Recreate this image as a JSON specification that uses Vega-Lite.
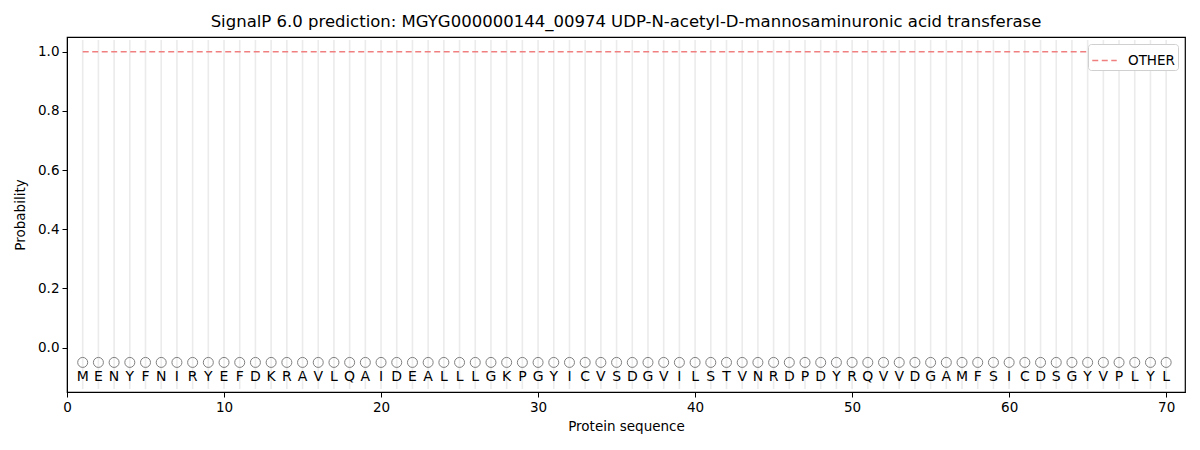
{
  "$schema": "https://vega.github.io/schema/vega-lite/v6.json",
  "width": 1118,
  "height": 355,
  "autosize": "none",
  "padding": {"left": 67, "top": 37, "right": 15, "bottom": 58},
  "background": "white",
  "title": {"text": "SignalP 6.0 prediction: MGYG000000144_00974 UDP-N-acetyl-D-mannosaminuronic acid transferase", "font": "DejaVu Sans", "fontSize": 16.5, "fontWeight": "normal", "color": "black", "offset": 7},
  "config": {
    "font": "DejaVu Sans",
    "view": {"stroke": "black", "strokeWidth": 1.2},
    "axis": {"labelFont": "DejaVu Sans", "titleFont": "DejaVu Sans", "labelFontSize": 13.5, "titleFontSize": 13.5, "titleFontWeight": "normal", "labelColor": "black", "titleColor": "black", "tickColor": "black", "domainColor": "black", "grid": false, "tickSize": 5, "labelPadding": 3}
  },
  "data": {"values": [
    {"pos": 1, "aa": "M", "other": 1.0}, {"pos": 2, "aa": "E", "other": 1.0}, {"pos": 3, "aa": "N", "other": 1.0},
    {"pos": 4, "aa": "Y", "other": 1.0}, {"pos": 5, "aa": "F", "other": 1.0}, {"pos": 6, "aa": "N", "other": 1.0},
    {"pos": 7, "aa": "I", "other": 1.0}, {"pos": 8, "aa": "R", "other": 1.0}, {"pos": 9, "aa": "Y", "other": 1.0},
    {"pos": 10, "aa": "E", "other": 1.0}, {"pos": 11, "aa": "F", "other": 1.0}, {"pos": 12, "aa": "D", "other": 1.0},
    {"pos": 13, "aa": "K", "other": 1.0}, {"pos": 14, "aa": "R", "other": 1.0}, {"pos": 15, "aa": "A", "other": 1.0},
    {"pos": 16, "aa": "V", "other": 1.0}, {"pos": 17, "aa": "L", "other": 1.0}, {"pos": 18, "aa": "Q", "other": 1.0},
    {"pos": 19, "aa": "A", "other": 1.0}, {"pos": 20, "aa": "I", "other": 1.0}, {"pos": 21, "aa": "D", "other": 1.0},
    {"pos": 22, "aa": "E", "other": 1.0}, {"pos": 23, "aa": "A", "other": 1.0}, {"pos": 24, "aa": "L", "other": 1.0},
    {"pos": 25, "aa": "L", "other": 1.0}, {"pos": 26, "aa": "L", "other": 1.0}, {"pos": 27, "aa": "G", "other": 1.0},
    {"pos": 28, "aa": "K", "other": 1.0}, {"pos": 29, "aa": "P", "other": 1.0}, {"pos": 30, "aa": "G", "other": 1.0},
    {"pos": 31, "aa": "Y", "other": 1.0}, {"pos": 32, "aa": "I", "other": 1.0}, {"pos": 33, "aa": "C", "other": 1.0},
    {"pos": 34, "aa": "V", "other": 1.0}, {"pos": 35, "aa": "S", "other": 1.0}, {"pos": 36, "aa": "D", "other": 1.0},
    {"pos": 37, "aa": "G", "other": 1.0}, {"pos": 38, "aa": "V", "other": 1.0}, {"pos": 39, "aa": "I", "other": 1.0},
    {"pos": 40, "aa": "L", "other": 1.0}, {"pos": 41, "aa": "S", "other": 1.0}, {"pos": 42, "aa": "T", "other": 1.0},
    {"pos": 43, "aa": "V", "other": 1.0}, {"pos": 44, "aa": "N", "other": 1.0}, {"pos": 45, "aa": "R", "other": 1.0},
    {"pos": 46, "aa": "D", "other": 1.0}, {"pos": 47, "aa": "P", "other": 1.0}, {"pos": 48, "aa": "D", "other": 1.0},
    {"pos": 49, "aa": "Y", "other": 1.0}, {"pos": 50, "aa": "R", "other": 1.0}, {"pos": 51, "aa": "Q", "other": 1.0},
    {"pos": 52, "aa": "V", "other": 1.0}, {"pos": 53, "aa": "V", "other": 1.0}, {"pos": 54, "aa": "D", "other": 1.0},
    {"pos": 55, "aa": "G", "other": 1.0}, {"pos": 56, "aa": "A", "other": 1.0}, {"pos": 57, "aa": "M", "other": 1.0},
    {"pos": 58, "aa": "F", "other": 1.0}, {"pos": 59, "aa": "S", "other": 1.0}, {"pos": 60, "aa": "I", "other": 1.0},
    {"pos": 61, "aa": "C", "other": 1.0}, {"pos": 62, "aa": "D", "other": 1.0}, {"pos": 63, "aa": "S", "other": 1.0},
    {"pos": 64, "aa": "G", "other": 1.0}, {"pos": 65, "aa": "Y", "other": 1.0}, {"pos": 66, "aa": "V", "other": 1.0},
    {"pos": 67, "aa": "P", "other": 1.0}, {"pos": 68, "aa": "L", "other": 1.0}, {"pos": 69, "aa": "Y", "other": 1.0},
    {"pos": 70, "aa": "L", "other": 1.0}
  ]},
  "resolve": {"axis": {"x": "independent"}},
  "layer": [
    {
      "mark": {"type": "rule", "color": "#ebebeb", "strokeWidth": 1.6},
      "encoding": {
        "x": {"field": "pos", "type": "quantitative", "scale": {"domain": [0, 71.2], "nice": false, "zero": false},
              "axis": {"title": "Protein sequence", "values": [0, 10, 20, 30, 40, 50, 60, 70], "format": "d", "labelFlush": false, "titlePadding": 6, "zindex": 1}},
        "y": {"datum": 1.04, "type": "quantitative"},
        "y2": {"datum": -0.14}
      }
    },
    {
      "mark": {"type": "line", "strokeDash": [6, 3.5], "strokeWidth": 1.6},
      "encoding": {
        "x": {"field": "pos", "type": "quantitative",
              "axis": {"orient": "top", "labels": false, "ticks": false, "title": null, "domain": true, "domainWidth": 1.2, "zindex": 1}},
        "y": {"field": "other", "type": "quantitative", "scale": {"domain": [-0.15, 1.05], "nice": false, "zero": false},
              "axis": {"title": "Probability", "values": [0, 0.2, 0.4, 0.6, 0.8, 1.0], "format": ".1f", "titlePadding": 10}},
        "color": {"datum": "OTHER", "scale": {"range": ["#f08080"]},
                  "legend": {"title": null, "orient": "top-right", "offset": 7, "labelFontSize": 13.5, "labelFont": "DejaVu Sans", "labelOffset": 10,
                             "symbolType": "stroke", "symbolDash": [6, 3.5], "symbolStrokeWidth": 1.6, "symbolSize": 600,
                             "strokeColor": "#d0d0d0", "fillColor": "white", "padding": 3, "cornerRadius": 3}}
      }
    },
    {
      "mark": {"type": "point", "shape": "circle", "filled": false, "color": "#808080", "opacity": 1, "size": 100, "strokeWidth": 1},
      "encoding": {
        "x": {"field": "pos", "type": "quantitative", "axis": null},
        "y": {"datum": -0.05, "type": "quantitative"}
      }
    },
    {
      "mark": {"type": "text", "fontSize": 14, "font": "DejaVu Sans", "color": "black", "baseline": "middle"},
      "encoding": {
        "x": {"field": "pos", "type": "quantitative", "axis": null},
        "y": {"datum": -0.1, "type": "quantitative"},
        "text": {"field": "aa"}
      }
    }
  ]
}
